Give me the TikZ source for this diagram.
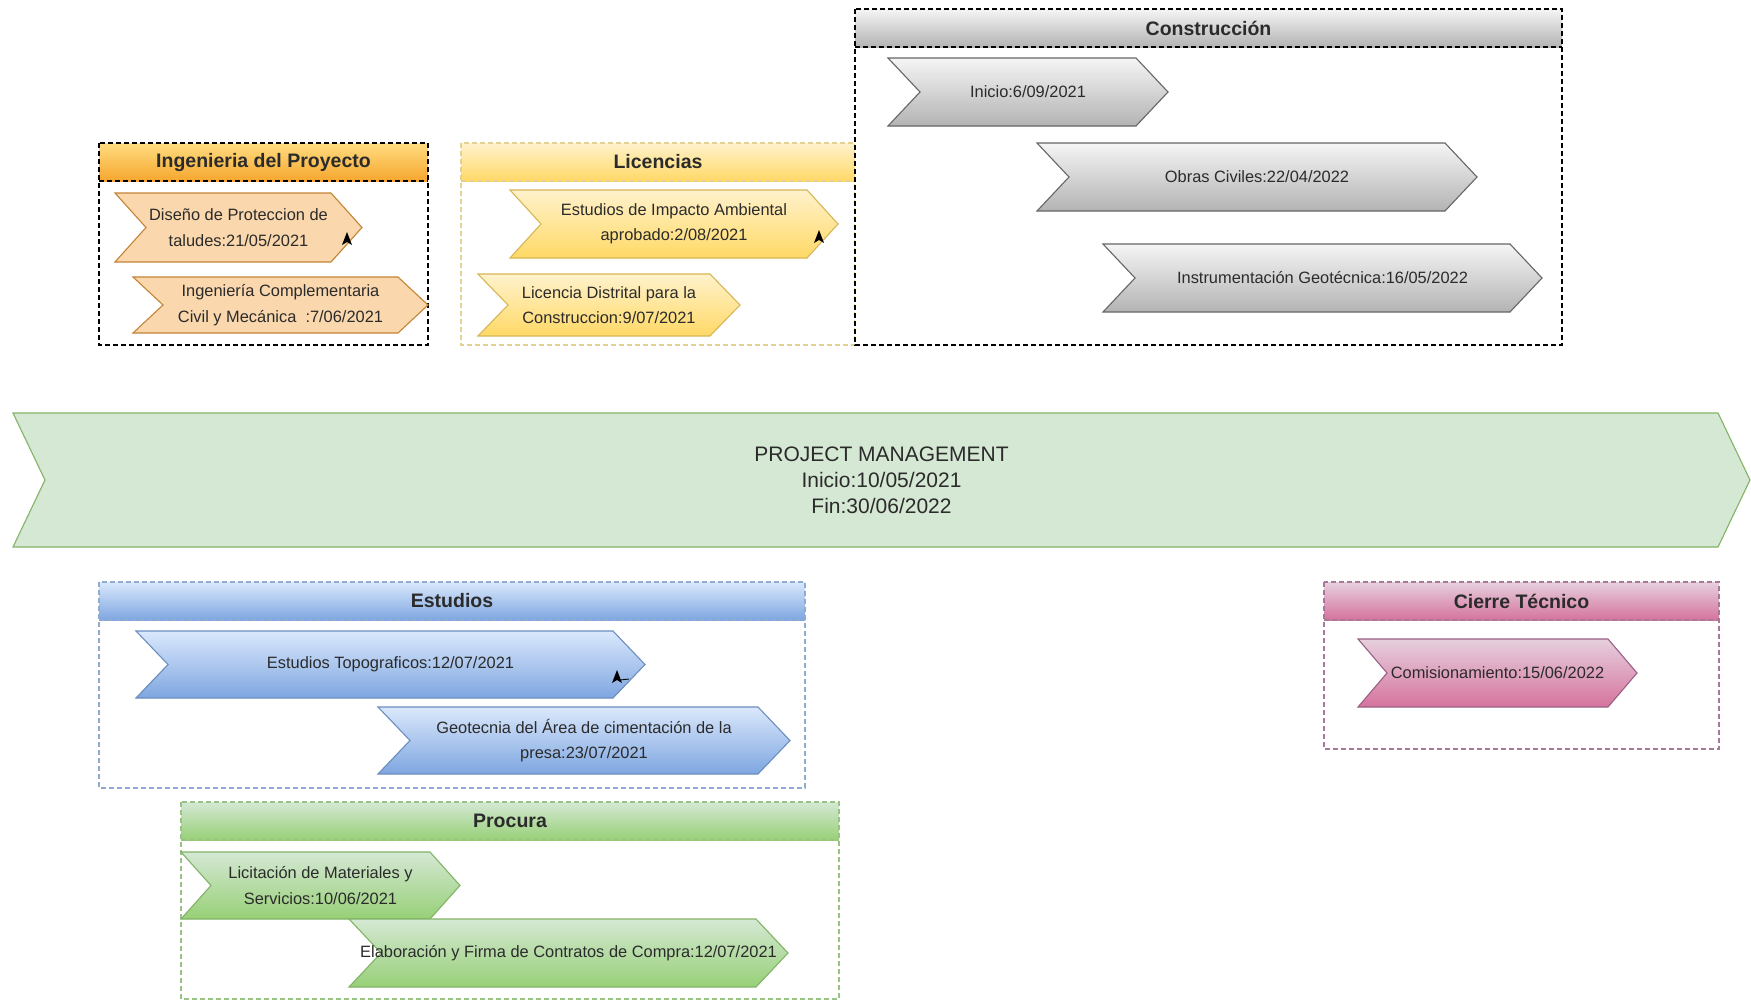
\documentclass[tikz,border=0pt]{standalone}
\usepackage{fontspec}
\setmainfont{Liberation Sans}
\usetikzlibrary{calc}

% palette
\definecolor{txt}{HTML}{2B2B2B}
\definecolor{ingTop}{HTML}{FFDD80}
\definecolor{ingBot}{HTML}{F6A62E}
\definecolor{ingFill}{HTML}{FAD7AC}
\definecolor{ingLine}{HTML}{B46504}
\definecolor{licTop}{HTML}{FFF2CC}
\definecolor{licBot}{HTML}{FFD966}
\definecolor{licLine}{HTML}{D6B656}
\definecolor{conTop}{HTML}{F5F5F5}
\definecolor{conBot}{HTML}{B3B3B3}
\definecolor{conLine}{HTML}{666666}
\definecolor{estTop}{HTML}{DAE8FC}
\definecolor{estBot}{HTML}{7EA6E0}
\definecolor{estLine}{HTML}{6C8EBF}
\definecolor{proTop}{HTML}{D5E8D4}
\definecolor{proBot}{HTML}{97D077}
\definecolor{proLine}{HTML}{82B366}
\definecolor{ciTop}{HTML}{E6D0DE}
\definecolor{ciBot}{HTML}{D5739D}
\definecolor{ciLine}{HTML}{996185}
\definecolor{pmFill}{HTML}{D5E8D4}

\tikzset{
  x=1pt, y=-1pt,
  chevtext/.style={align=center, text=txt, inner sep=0pt,
    font=\fontsize{16.4}{25.5}\selectfont},
  pmtext/.style={align=center, text=txt, inner sep=0pt,
    font=\fontsize{21}{25.8}\selectfont},
  titletext/.style={text=txt, inner sep=0pt,
    font=\fontsize{19.5}{22}\selectfont\bfseries},
  lanedash/.style={line width=1.2pt, dash pattern=on 5pt off 3pt},
  chevline/.style={line width=1.1pt, line join=miter},
  % lane styles: outline and header
  ingline/.style={draw=black},
  inghead/.style={top color=ingTop, bottom color=ingBot},
  licline/.style={draw=licLine!65},
  lichead/.style={top color=licTop, bottom color=licBot},
  conline/.style={draw=black},
  conhead/.style={top color=conTop, bottom color=conBot},
  estline/.style={draw=estLine!75},
  esthead/.style={top color=estTop, bottom color=estBot},
  proline/.style={draw=proLine!80},
  prohead/.style={top color=proTop, bottom color=proBot},
  ciline/.style={draw=ciLine!85},
  cihead/.style={top color=ciTop, bottom color=ciBot},
  % chevron bodies
  ingchev/.style={chevline, fill=ingFill, draw=ingLine!80},
  licchev/.style={chevline, top color=licTop, bottom color=licBot, draw=licLine},
  conchev/.style={chevline, top color=conTop, bottom color=conBot, draw=conLine},
  estchev/.style={chevline, top color=estTop, bottom color=estBot, draw=estLine},
  prochev/.style={chevline, top color=proTop, bottom color=proBot, draw=proLine},
  cichev/.style={chevline, top color=ciTop, bottom color=ciBot, draw=ciLine},
  pmchev/.style={chevline, fill=pmFill, draw=proLine},
}

% chevron: name, x1, y1, x2, y2, depth, style, text style, text
\newcommand{\chev}[9]{%
  \path[#7] (#2,#3) -- ({#4-#6},#3) -- (#4,{(#3+#5)/2}) -- ({#4-#6},#5)
    -- (#2,#5) -- ({#2+#6},{(#3+#5)/2}) -- cycle;
  \node[#8] (#1) at ({(#2+#4)/2},{(#3+#5)/2}) {#9};
}

% lane with header: name, x1, y1, x2, y2, header bottom, style prefix, title
\newcommand{\lane}[8]{%
  \fill[white] (#2,#3) rectangle (#4,#5);
  \path[#7head] (#2,#3) rectangle (#4,#6);
  \draw[lanedash,#7line] (#2,#6) -- (#4,#6);
  \draw[lanedash,#7line] (#2,#3) rectangle (#4,#5);
  \node[titletext] (#1) at ({(#2+#4)/2},{(#3+#6)/2}) {#8};
}

\begin{document}
\begin{tikzpicture}
\useasboundingbox[fill=white] (0,0) rectangle (1751,1001);

% Ingenieria del Proyecto
\lane{ing}{99}{143}{428}{345}{181}{ing}{Ingenieria del Proyecto}
\chev{ingA}{115}{193}{362}{262}{31}{ingchev}{chevtext}{Diseño de Proteccion de\\taludes:21/05/2021}
\chev{ingB}{133}{277}{428}{333}{30}{ingchev}{chevtext}{Ingeniería Complementaria\\Civil y Mecánica \ :7/06/2021}
\fill[black] (347,232) -- (352,245) -- (347,242) -- (342,245) -- cycle;

% Licencias
\lane{lic}{461}{143}{855}{345}{181}{lic}{Licencias}
\chev{licA}{510}{190}{838}{258}{31}{licchev}{chevtext}{Estudios de Impacto Ambiental\\aprobado:2/08/2021}
\chev{licB}{478}{274}{740}{336}{30}{licchev}{chevtext}{Licencia Distrital para la\\Construccion:9/07/2021}
\fill[black] (819,230) -- (824,243) -- (819,240) -- (814,243) -- cycle;

% Construccion
\lane{con}{855}{9}{1562}{345}{47}{con}{Construcción}
\chev{conA}{888}{58}{1168}{126}{32}{conchev}{chevtext}{Inicio:6/09/2021}
\chev{conB}{1037}{143}{1477}{211}{32}{conchev}{chevtext}{Obras Civiles:22/04/2022}
\chev{conC}{1103}{244}{1542}{312}{32}{conchev}{chevtext}{Instrumentación Geotécnica:16/05/2022}

% Project management band
\chev{pm}{13}{413}{1750}{547}{32}{pmchev}{pmtext}{PROJECT MANAGEMENT\\Inicio:10/05/2021\\Fin:30/06/2022}

% Estudios
\lane{est}{99}{582}{805}{788}{620}{est}{Estudios}
\chev{estA}{136}{631}{645}{698}{32}{estchev}{chevtext}{Estudios Topograficos:12/07/2021}
\chev{estB}{378}{707}{790}{774}{32}{estchev}{chevtext}{Geotecnia del Área de cimentación de la\\presa:23/07/2021}
\fill[black] (617,670) -- (622,683) -- (617,680) -- (612,683) -- cycle;
\draw[black, line width=0.9pt] (620,680) -- (629,679);

% Procura
\lane{pro}{181}{802}{839}{999}{840}{pro}{Procura}
\chev{proA}{181}{852}{460}{919}{30}{prochev}{chevtext}{Licitación de Materiales y\\Servicios:10/06/2021}
\chev{proB}{349}{919}{788}{987}{32}{prochev}{chevtext}{Elaboración y Firma de Contratos de Compra:12/07/2021}

% Cierre Tecnico
\lane{ci}{1324}{582}{1719}{749}{620}{ci}{Cierre Técnico}
\chev{ciA}{1358}{639}{1637}{707}{29}{cichev}{chevtext}{Comisionamiento:15/06/2022}

\end{tikzpicture}
\end{document}
